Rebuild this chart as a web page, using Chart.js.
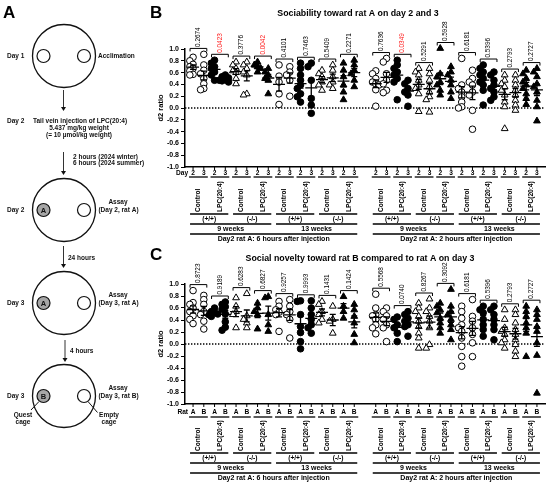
<!DOCTYPE html>
<html>
<head>
<meta charset="utf-8">
<script src="https://cdn.jsdelivr.net/npm/chart.js@4/dist/chart.umd.min.js"></script>
<style>
  html, body { margin: 0; padding: 0; background: #fff; }
  #wrap { position: relative; width: 550px; height: 487px; overflow: hidden; }
  canvas { position: absolute; }
</style>
</head>
<body>
<div id="wrap">
  <canvas id="panelA" width="145" height="487" style="left:0;top:0"></canvas>
  <canvas id="chartB" width="410" height="245" style="left:140px;top:0"></canvas>
  <canvas id="chartC" width="410" height="242" style="left:140px;top:245px"></canvas>
</div>
<script>
const FONT = '"Liberation Sans", Arial, Helvetica, sans-serif';

// labels under the axes
const treatments = ['Control', 'LPC(20:4)'];
const genotypes = ['(+/+)', '(-/-)'];
const ages = ['9 weeks', '13 weeks'];
const sections = ['Day2 rat A: 6 hours after injection', 'Day2 rat A: 2 hours after injection'];
const dayLabels = ['2', '3'];
const ratLabels = ['A', 'B'];

// B: sociability toward rat A, d2 ratio per rat (16 groups)
const sociabilityDay2 = [
  [0.86, 0.80, 0.74, 0.70, 0.67, 0.63, 0.57, 0.56],
  [0.81, 0.76, 0.70, 0.67, 0.61, 0.56, 0.47],
  [0.78, 0.73, 0.67, 0.63, 0.60, 0.50, 0.41],
  [0.78, 0.73, 0.70, 0.67, 0.61],
  [0.73, 0.54, 0.44, 0.24, 0.06],
  [0.76, 0.67, 0.56, 0.47, 0.39, 0.33, 0.24, 0.19, 0.10],
  [0.64, 0.58, 0.53, 0.44, 0.39, 0.30],
  [0.76, 0.64, 0.53, 0.39, 0.27, 0.14],
  [0.63, 0.58, 0.50, 0.44, 0.41, 0.39, 0.31, 0.03],
  [0.81, 0.73, 0.67, 0.61, 0.56, 0.50, 0.44, 0.14],
  [0.67, 0.61, 0.56, 0.47, 0.39, 0.33, 0.24, -0.06],
  [1.01, 0.58, 0.53, 0.44, 0.39, 0.30, 0.22],
  [0.84, 0.39, 0.33, 0.27, 0.19, 0.10, 0.02, 0.00],
  [0.73, 0.67, 0.61, 0.56, 0.50, 0.44, 0.39, 0.30, 0.05],
  [0.56, 0.47, 0.41, 0.36, 0.30, 0.22, 0.10, 0.02, -0.35],
  [0.64, 0.58, 0.50, 0.44, 0.39, 0.33, 0.24, 0.16, 0.06]
];
const sociabilityDay3 = [
  [0.91, 0.73, 0.64, 0.58, 0.50, 0.41, 0.33, 0.31],
  [0.56, 0.53, 0.51, 0.48, 0.47, 0.46, 0.44],
  [0.78, 0.73, 0.67, 0.61, 0.56, 0.24, 0.22],
  [0.67, 0.61, 0.56, 0.50, 0.47, 0.24],
  [0.70, 0.61, 0.56, 0.47, 0.20],
  [0.76, 0.70, 0.47, 0.16, 0.05, -0.09],
  [0.73, 0.64, 0.53, 0.44, 0.39, 0.33],
  [0.81, 0.73, 0.64, 0.58, 0.47, 0.36],
  [0.84, 0.78, 0.58, 0.47, 0.41, 0.30, 0.26],
  [0.47, 0.41, 0.33, 0.27, 0.22, 0.03],
  [0.67, 0.58, 0.47, 0.36, 0.27, 0.19, 0.14, -0.07],
  [0.70, 0.61, 0.56, 0.47, 0.39, 0.27, 0.16],
  [0.64, 0.50, 0.44, 0.39, 0.27, 0.22, -0.04, -0.36],
  [0.61, 0.56, 0.47, 0.39, 0.33, 0.27, 0.19, 0.13],
  [0.56, 0.47, 0.39, 0.30, 0.22, 0.13, 0.05, -0.04],
  [0.67, 0.61, 0.53, 0.41, 0.36, 0.27, 0.13, 0.02, -0.22]
];
const sociabilityP = ['0.2674', '0.0423', '0.3776', '0.0042', '0.4101', '0.7463', '0.5409', '0.2271',
                      '0.7636', '0.0349', '0.5291', '0.5928', '0.6181', '0.5396', '0.2793', '0.2727'];

// C: social novelty, rat A vs rat B on day 3
const noveltyRatA = [
  [0.89, 0.69, 0.66, 0.60, 0.54, 0.47, 0.41, 0.34],
  [0.60, 0.54, 0.52, 0.50, 0.49, 0.46],
  [0.77, 0.63, 0.54, 0.49, 0.27],
  [0.68, 0.60, 0.54, 0.49, 0.25],
  [0.71, 0.63, 0.57, 0.53, 0.49, 0.21],
  [0.72, 0.71, 0.49, 0.29, 0.19, 0.04, -0.08],
  [0.71, 0.66, 0.54, 0.49, 0.41, 0.35],
  [0.79, 0.63, 0.54, 0.43],
  [0.83, 0.60, 0.49, 0.47, 0.41, 0.32, 0.27, 0.17],
  [0.45, 0.41, 0.32, 0.27, 0.18, 0.04],
  [0.68, 0.60, 0.54, 0.46, 0.38, 0.29, 0.18, 0.10, -0.07],
  [0.68, 0.63, 0.57, 0.52, 0.43, 0.35, 0.27, 0.18],
  [0.63, 0.54, 0.43, 0.32, 0.27, 0.21, 0.10, -0.04, -0.21, -0.37],
  [0.63, 0.57, 0.52, 0.41, 0.32, 0.24, 0.13],
  [0.57, 0.41, 0.27, 0.21, 0.16, 0.07, 0.02, -0.07],
  [0.63, 0.54, 0.46, 0.35, 0.27, 0.18, -0.21]
];
const noveltyRatB = [
  [0.81, 0.74, 0.66, 0.54, 0.49, 0.38, 0.25],
  [0.70, 0.66, 0.62, 0.58, 0.50, 0.37, 0.28, 0.23],
  [0.84, 0.47, 0.41, 0.35, 0.27],
  [0.79, 0.77, 0.49, 0.32, 0.21],
  [0.74, 0.63, 0.54, 0.49, 0.41, 0.10],
  [0.72, 0.60, 0.49, 0.41, 0.32, 0.27, 0.18],
  [0.63, 0.41, 0.38, 0.18],
  [0.66, 0.57, 0.46, 0.35, 0.16, 0.02],
  [0.60, 0.54, 0.47, 0.41, 0.32, 0.27, 0.04],
  [0.54, 0.49, 0.43, 0.38, 0.32, 0.29, 0.13],
  [0.75, 0.60, 0.54, 0.46, 0.38, 0.27, -0.01, -0.07],
  [0.91, 0.63, 0.54, 0.49, 0.41, 0.32, 0.24, 0.07],
  [0.74, 0.46, 0.38, 0.27, 0.16, 0.02, -0.21],
  [0.63, 0.57, 0.49, 0.41, 0.32, 0.24, 0.07],
  [0.57, 0.49, 0.35, 0.24, 0.16, 0.07, -0.01, -0.12, -0.21],
  [0.57, 0.49, 0.41, 0.29, 0.21, 0.02, -0.19, -0.82]
];
const noveltyP = ['0.8723', '0.9189', '0.6283', '0.6827', '0.9257', '0.9993', '0.1431', '0.1424',
                  '0.5568', '0.0740', '0.8267', '0.3092', '0.6181', '0.5396', '0.2793', '0.2727'];

Chart.defaults.font.family = FONT;
Chart.defaults.color = '#000';

// column position: two columns per group, one empty slot between the two sections
const colIndex = (g, c) => g * 2 + c + (g >= 8 ? 1 : 0);

// small side-to-side spread so overlapping points stay visible
function spread(vals) {
  const placed = [];
  return vals.map(v => {
    const near = placed.filter(p => Math.abs(p.v - v) < 0.065).map(p => p.o);
    const o = [0, -0.3, 0.3, -0.55, 0.55].find(c => !near.includes(c)) ?? 0;
    placed.push({ v, o });
    return o;
  });
}

const markerStyles = [
  { pointStyle: 'circle', backgroundColor: '#fff' },
  { pointStyle: 'circle', backgroundColor: '#000' },
  { pointStyle: 'triangle', backgroundColor: '#fff' },
  { pointStyle: 'triangle', backgroundColor: '#000' }
];

function buildDatasets(first, second) {
  return markerStyles.map((st, m) => {
    const data = [];
    for (let g = m; g < 16; g += 4) {
      [first[g], second[g]].forEach((vals, c) => {
        const k = colIndex(g, c);
        const off = spread(vals);
        vals.forEach((v, i) => data.push({ x: k + off[i], y: v }));
      });
    }
    return {
      data, ...st,
      borderColor: '#000', borderWidth: 1,
      pointRadius: st.pointStyle === 'triangle' ? 3.9 : 3.3,
      pointHoverRadius: 0, showLine: false, clip: false
    };
  });
}

const mean = a => a.reduce((s, v) => s + v, 0) / a.length;
const sem = a => {
  const m = mean(a);
  return Math.sqrt(a.reduce((s, v) => s + (v - m) ** 2, 0) / (a.length - 1)) / Math.sqrt(a.length);
};

function annotPlugin(first, second, pvals, colLabels, rowName, lay) {
  return {
    id: 'annot',
    beforeDatasetsDraw(chart) {
      const { ctx, chartArea: ca, scales: { y } } = chart;
      const y0 = y.getPixelForValue(0);
      ctx.save();
      ctx.strokeStyle = '#000';
      ctx.lineWidth = 1.3;
      ctx.setLineDash([1.4, 1.6]);
      ctx.beginPath(); ctx.moveTo(ca.left, y0); ctx.lineTo(ca.right, y0); ctx.stroke();
      ctx.restore();
    },
    afterDatasetsDraw(chart) {
      const { ctx, scales: { x, y } } = chart;
      ctx.save();
      ctx.strokeStyle = '#000';
      ctx.lineWidth = 1.3;
      for (let g = 0; g < 16; g++) {
        [first[g], second[g]].forEach((vals, c) => {
          const px = x.getPixelForValue(colIndex(g, c));
          const m = mean(vals), e = sem(vals);
          const pm = y.getPixelForValue(m), pt = y.getPixelForValue(m + e), pb = y.getPixelForValue(m - e);
          ctx.beginPath();
          ctx.moveTo(px - 6, pm); ctx.lineTo(px + 6, pm);
          ctx.moveTo(px, pt); ctx.lineTo(px, pb);
          ctx.moveTo(px - 3, pt); ctx.lineTo(px + 3, pt);
          ctx.moveTo(px - 3, pb); ctx.lineTo(px + 3, pb);
          ctx.stroke();
        });
      }
      ctx.restore();
    },
    afterDraw(chart) {
      const { ctx, chartArea: ca, scales: { x, y } } = chart;
      const yb = ca.bottom;
      ctx.save();
      ctx.strokeStyle = '#000';
      ctx.fillStyle = '#000';
      const hline = (x1, x2, yy, w) => {
        ctx.lineWidth = w; ctx.beginPath(); ctx.moveTo(x1, yy); ctx.lineTo(x2, yy); ctx.stroke();
      };
      const px = k => x.getPixelForValue(k);

      // p-value brackets
      for (let g = 0; g < 16; g++) {
        const x1 = px(colIndex(g, 0)), x2 = px(colIndex(g, 1));
        const top = Math.max(...first[g], ...second[g]) + 0.1;
        const by = y.getPixelForValue(top);
        ctx.lineWidth = 1;
        ctx.beginPath();
        ctx.moveTo(x1 - 3, by + 3); ctx.lineTo(x1 - 3, by); ctx.lineTo(x2 + 3, by); ctx.lineTo(x2 + 3, by + 3);
        ctx.stroke();
        ctx.save();
        ctx.translate((x1 + x2) / 2, by - 1.5);
        ctx.rotate(-Math.PI / 2);
        ctx.font = '6.4px ' + FONT;
        ctx.fillStyle = parseFloat(pvals[g]) < 0.05 ? '#ff1a1a' : '#000';
        ctx.textAlign = 'left';
        ctx.textBaseline = 'middle';
        ctx.fillText(pvals[g], 0, 0);
        ctx.restore();
      }

      // column ticks and labels
      ctx.font = 'bold 6.6px ' + FONT;
      ctx.textBaseline = 'middle';
      ctx.textAlign = 'right';
      ctx.fillText(rowName, px(0) - 5, yb + lay.tickLabel);
      ctx.textAlign = 'center';
      for (let g = 0; g < 16; g++) {
        const x1 = px(colIndex(g, 0)), x2 = px(colIndex(g, 1));
        ctx.lineWidth = 1;
        ctx.beginPath();
        ctx.moveTo(x1, yb); ctx.lineTo(x1, yb + 3);
        ctx.moveTo(x2, yb); ctx.lineTo(x2, yb + 3);
        ctx.stroke();
        ctx.fillText(colLabels[0], x1, yb + lay.tickLabel);
        ctx.fillText(colLabels[1], x2, yb + lay.tickLabel);
        hline(x1 - 4, x2 + 4, yb + lay.under, 1.3);
        ctx.save();
        ctx.translate((x1 + x2) / 2, yb + lay.rotEnd);
        ctx.rotate(-Math.PI / 2);
        ctx.textAlign = 'left';
        ctx.fillText(treatments[g % 2], 0, 0);
        ctx.restore();
      }

      // genotype, age and section brackets
      const b = lay.base;
      ctx.font = 'bold 6.6px ' + FONT;
      for (let i = 0; i < 8; i++) {
        const x1 = px(colIndex(i * 2, 0)) - 3, x2 = px(colIndex(i * 2 + 1, 1)) + 3;
        hline(x1, x2, yb + b, 1.5);
        ctx.fillText(genotypes[i % 2], (x1 + x2) / 2, yb + b + 5);
      }
      ctx.font = 'bold 7px ' + FONT;
      for (let i = 0; i < 4; i++) {
        const x1 = px(colIndex(i * 4, 0)) - 3, x2 = px(colIndex(i * 4 + 3, 1)) + 3;
        hline(x1, x2, yb + b + 10, 1.5);
        ctx.fillText(ages[i % 2], (x1 + x2) / 2, yb + b + 15);
      }
      for (let i = 0; i < 2; i++) {
        const x1 = px(colIndex(i * 8, 0)) - 3, x2 = px(colIndex(i * 8 + 7, 1)) + 3;
        hline(x1, x2, yb + b + 20, 1.5);
        ctx.fillText(sections[i], (x1 + x2) / 2, yb + b + 25);
      }
      ctx.restore();
    }
  };
}

function makeChart(id, first, second, pvals, colLabels, rowName, title, pad, lay) {
  return new Chart(document.getElementById(id), {
    type: 'scatter',
    data: { datasets: buildDatasets(first, second) },
    options: {
      responsive: false,
      animation: false,
      events: [],
      layout: { padding: pad },
      plugins: {
        legend: { display: false },
        tooltip: { enabled: false },
        title: { display: false }
      },
      scales: {
        x: {
          type: 'linear', min: -0.75, max: 32.75,
          ticks: { display: false },
          grid: { display: false },
          border: { display: true, color: '#000', width: 1.5 },
          afterFit: s => { s.height = 0; }
        },
        y: {
          min: -1, max: 1,
          ticks: {
            stepSize: 0.2, padding: 2,
            font: { size: 7, weight: 'bold' },
            callback: v => v.toFixed(1)
          },
          grid: { drawOnChartArea: false, drawTicks: true, tickLength: 4, color: '#000', lineWidth: 1 },
          border: { color: '#000', width: 1.5 },
          title: { display: true, text: 'd2 ratio', padding: 0, font: { size: 7.5, weight: 'bold' } },
          afterFit: s => { s.width = 29; }
        }
      }
    },
    plugins: [annotPlugin(first, second, pvals, colLabels, rowName, lay), {
      id: 'heading',
      afterDraw(chart) {
        const ctx = chart.ctx;
        ctx.save();
        ctx.fillStyle = '#000';
        ctx.font = 'bold 17px ' + FONT;
        ctx.textBaseline = 'alphabetic';
        ctx.textAlign = 'left';
        ctx.fillText(title.letter, 10, title.letterY);
        ctx.font = 'bold 8.8px ' + FONT;
        ctx.textAlign = 'center';
        ctx.fillText(title.text, title.x, title.y);
        ctx.restore();
      }
    }]
  });
}

makeChart('chartB', sociabilityDay2, sociabilityDay3, sociabilityP, dayLabels, 'Day',
  { letter: 'B', letterY: 18, text: 'Sociability toward rat A on day 2 and 3', x: 218, y: 16 },
  { left: 16, right: 5, top: 49, bottom: 78 },
  { tickLabel: 6, under: 10, rotEnd: 45, base: 47 });

makeChart('chartC', noveltyRatA, noveltyRatB, noveltyP, ratLabels, 'Rat',
  { letter: 'C', letterY: 15, text: 'Social novelty toward rat B compared to rat A on day 3', x: 220, y: 16 },
  { left: 16, right: 5, top: 39, bottom: 83 },
  { tickLabel: 8, under: 13, rotEnd: 47, base: 49 });

// ---- panel A: experiment schedule ----
const a = document.getElementById('panelA').getContext('2d');
const ink = '#111';
function txt(s, x, y, align = 'left', size = 6.5) {
  a.font = 'bold ' + size + 'px ' + FONT;
  a.fillStyle = ink;
  a.textAlign = align;
  a.textBaseline = 'middle';
  a.fillText(s, x, y);
}
function arrow(x, y1, y2) {
  a.strokeStyle = '#333';
  a.lineWidth = 1;
  a.beginPath(); a.moveTo(x, y1); a.lineTo(x, y2 - 3); a.stroke();
  a.fillStyle = '#111';
  a.beginPath(); a.moveTo(x - 2.5, y2 - 4); a.lineTo(x + 2.5, y2 - 4); a.lineTo(x, y2); a.closePath(); a.fill();
}
function arena(cy, letter) {
  const cx = 64;
  a.strokeStyle = '#111';
  a.lineWidth = 1.3;
  a.beginPath(); a.arc(cx, cy, 31.5, 0, Math.PI * 2); a.stroke();
  a.lineWidth = 1.2;
  a.beginPath(); a.arc(cx - 20.5, cy, 6.5, 0, Math.PI * 2);
  if (letter) { a.fillStyle = '#a6a6a6'; a.fill(); }
  a.stroke();
  a.beginPath(); a.arc(cx + 20, cy, 6.5, 0, Math.PI * 2); a.stroke();
  if (letter) txt(letter, cx - 20.5, cy + 0.5, 'center', 7.5);
}

a.font = 'bold 17px ' + FONT;
a.fillStyle = '#000';
a.textAlign = 'left';
a.textBaseline = 'alphabetic';
a.fillText('A', 3, 18);

arena(56, null);
txt('Day 1', 7, 56);
txt('Acclimation', 98, 56);
arrow(63.5, 90, 111);
txt('Day 2', 7, 121);
txt('Tail vein injection of LPC(20:4)', 33, 121);
txt('5.437 mg/kg weight', 79, 128.5, 'center');
txt('(= 10 \u00b5mol/kg weight)', 79, 135.5, 'center');
arrow(63.5, 152, 175);
txt('2 hours (2024 winter)', 73, 157);
txt('6 hours (2024 summer)', 73, 163.5);
arena(210, 'A');
txt('Day 2', 7, 210);
txt('Assay', 118, 202, 'center');
txt('(Day 2, rat A)', 118.5, 210, 'center');
arrow(63.5, 246, 268);
txt('24 hours', 68, 258.5);
arena(303, 'A');
txt('Day 3', 7, 303);
txt('Assay', 118, 295, 'center');
txt('(Day 3, rat A)', 118.5, 303, 'center');
arrow(65, 340, 362);
txt('4 hours', 70, 351);
arena(396, 'B');
txt('Day 3', 7, 396);
txt('Assay', 118, 388, 'center');
txt('(Day 3, rat B)', 118.5, 396, 'center');
a.strokeStyle = '#111';
a.lineWidth = 1;
a.beginPath();
a.moveTo(39, 401.5); a.lineTo(31, 410);
a.moveTo(88, 401.5); a.lineTo(97.5, 412.5);
a.stroke();
txt('Quest', 23, 415, 'center');
txt('cage', 23, 422.5, 'center');
txt('Empty', 109, 415, 'center');
txt('cage', 109, 422.5, 'center');
</script>
</body>
</html>
